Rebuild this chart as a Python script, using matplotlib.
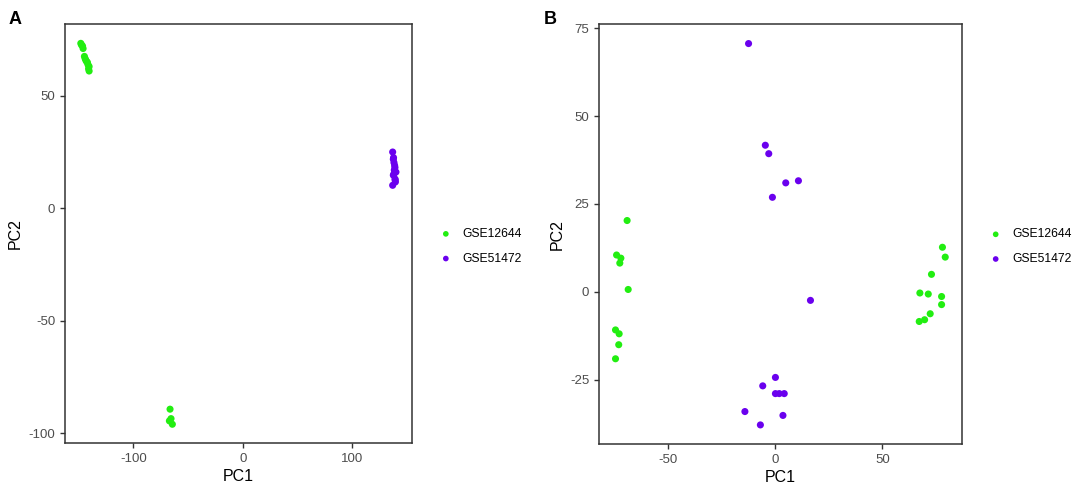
import numpy as np
import matplotlib
matplotlib.use("Agg")
import matplotlib.pyplot as plt

plt.rcParams['font.family'] = ['Liberation Sans', 'DejaVu Sans']
plt.rcParams['axes.unicode_minus'] = False

groups = ["GSE12644", "GSE51472"]
colors = {"GSE12644": "#22EE11", "GSE51472": "#6A00EE"}

# Panel A (PCA before batch correction)
a_gse12644_pc1 = [-148.1, -147.5, -146.5, -146.0, -144.8, -144.1, -143.5, -142.8,
                  -142.0, -141.5, -140.5, -140.5, -141.0, -66.6, -67.2, -65.7, -64.5]
a_gse12644_pc2 = [73.3, 72.6, 72.1, 71.0, 67.5, 66.5, 65.8, 65.2,
                  64.8, 63.8, 63.0, 61.0, 62.0, -89.3, -94.5, -93.5, -96.0]
a_gse51472_pc1 = [136.7, 137.3, 137.9, 138.5, 138.8, 138.6, 139.7, 137.3,
                  138.2, 139.2, 136.7, 137.8, 138.9, 137.5, 139.0]
a_gse51472_pc2 = [25.0, 21.8, 20.3, 19.0, 18.1, 15.9, 16.1, 14.7,
                  17.0, 11.7, 10.2, 15.2, 13.0, 22.5, 12.5]

# Panel B (PCA after batch correction)
b_gse12644_pc1 = [-68.8, -73.7, -71.7, -72.2, -68.3, -74.2, -72.5, -72.7, -74.2,
                  77.9, 79.2, 72.8, 67.4, 71.3, 77.5, 77.5, 72.2, 69.6, 67.1]
b_gse12644_pc2 = [20.3, 10.5, 9.6, 8.2, 0.7, -10.8, -11.9, -15.0, -19.0,
                  12.7, 9.9, 5.0, -0.3, -0.6, -1.3, -3.6, -6.2, -7.9, -8.4]
b_gse51472_pc1 = [-12.3, -4.5, -2.9, 5.0, 10.9, -1.2, 16.5, 0.2,
                  -5.7, 0.2, 2.0, 4.3, -14.0, 3.7, -6.8]
b_gse51472_pc2 = [70.6, 41.7, 39.3, 31.0, 31.6, 26.9, -2.4, -24.3,
                  -26.7, -28.9, -28.9, -28.9, -34.0, -35.1, -37.8]

a_xticks = [-100, 0, 100]
a_yticks = [-100, -50, 0, 50]
b_xticks = [-50, 0, 50]
b_yticks = [-25, 0, 25, 50, 75]

fig = plt.figure(figsize=(10.84, 4.88), dpi=100)
ax_a = fig.add_axes([0.060, 0.0916, 0.3198, 0.8586])
ax_b = fig.add_axes([0.5526, 0.0902, 0.3346, 0.8596])


def style(ax, xticks, yticks):
    ax.margins(0.05)
    ax.set_xticks(xticks)
    ax.set_yticks(yticks)
    ax.tick_params(colors="#333333", labelcolor="#4D4D4D", labelsize=9.5,
                   length=3.5, width=1.0, direction="out")
    for s in ax.spines.values():
        s.set_color("#333333")
        s.set_linewidth(1.1)
    ax.set_xlabel("PC1", fontsize=11.5, labelpad=3)
    ax.set_ylabel("PC2", fontsize=11.5, labelpad=4)


for ax, data, xt, yt, legx in [
    (ax_a, {"GSE12644": (a_gse12644_pc1, a_gse12644_pc2),
            "GSE51472": (a_gse51472_pc1, a_gse51472_pc2)}, a_xticks, a_yticks, 1.081),
    (ax_b, {"GSE12644": (b_gse12644_pc1, b_gse12644_pc2),
            "GSE51472": (b_gse51472_pc1, b_gse51472_pc2)}, b_xticks, b_yticks, 1.077),
]:
    for g in groups:
        x, y = data[g]
        ax.scatter(x, y, s=26, color=colors[g], edgecolors="none", label=g, zorder=3)
    style(ax, xt, yt)
    ax.legend(loc="center left", bbox_to_anchor=(legx, 0.47), frameon=False,
              fontsize=8.7, handlelength=1.0, handletextpad=0.9, labelspacing=1.05,
              markerscale=0.8, borderaxespad=0, borderpad=0)

fig.text(0.008, 0.96, "A", fontsize=13, fontweight="bold", va="center")
fig.text(0.502, 0.96, "B", fontsize=13, fontweight="bold", va="center")

fig.savefig("out.png", dpi=100)
